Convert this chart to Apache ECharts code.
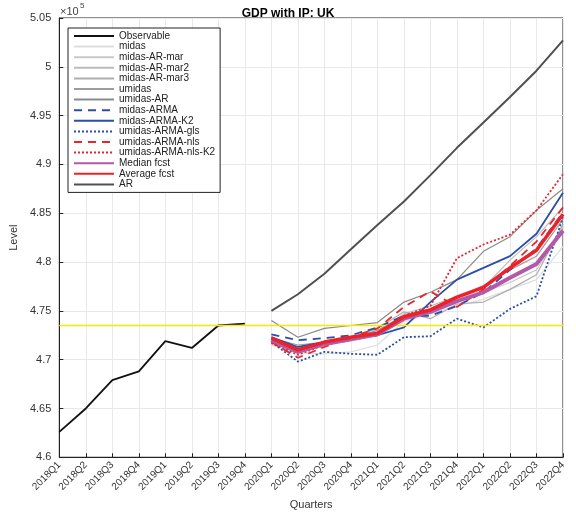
<!DOCTYPE html>
<html>
<head>
<meta charset="utf-8">
<script src="https://cdn.jsdelivr.net/npm/echarts@6/dist/echarts.min.js"></script>
<style>html,body{margin:0;width:100%;height:100%;background:#fff}#c{width:576px;height:515px}</style>
</head>
<body>
<div id="c"></div>
<script>
var quarters = ['2018Q1','2018Q2','2018Q3','2018Q4','2019Q1','2019Q2','2019Q3','2019Q4',
  '2020Q1','2020Q2','2020Q3','2020Q4','2021Q1','2021Q2','2021Q3','2021Q4','2022Q1','2022Q2','2022Q3','2022Q4'];
var pad = [null,null,null,null,null,null,null,null];
var observable = [4.626,4.650,4.679,4.688,4.719,4.712,4.735,4.737];
var midas       = [4.715,4.707,4.706,4.708,4.715,4.739,4.747,4.755,4.762,4.772,4.782,4.816];
var midasARmar  = [4.720,4.708,4.717,4.722,4.728,4.745,4.749,4.759,4.769,4.779,4.792,4.836];
var midasARmar2 = [4.720,4.712,4.717,4.720,4.728,4.747,4.755,4.765,4.774,4.802,4.826,4.856];
var midasARmar3 = [4.718,4.707,4.717,4.722,4.732,4.749,4.742,4.757,4.759,4.772,4.787,4.839];
var umidas      = [4.722,4.715,4.718,4.722,4.730,4.745,4.752,4.764,4.776,4.792,4.806,4.844];
var umidasAR    = [4.740,4.723,4.732,4.735,4.738,4.759,4.769,4.782,4.811,4.826,4.853,4.875];
var midasARMA   = [4.726,4.720,4.722,4.725,4.733,4.745,4.745,4.755,4.769,4.792,4.814,4.851];
var midasARMAK2 = [4.723,4.713,4.718,4.722,4.725,4.733,4.759,4.782,4.794,4.806,4.829,4.871];
var umidasGls   = [4.718,4.698,4.708,4.706,4.705,4.723,4.724,4.742,4.733,4.752,4.765,4.846];
var umidasNls   = [4.718,4.702,4.713,4.723,4.732,4.754,4.770,4.754,4.772,4.796,4.821,4.856];
var umidasNlsK2 = [4.717,4.705,4.715,4.720,4.725,4.745,4.755,4.804,4.818,4.828,4.853,4.890];
var medianFcst  = [4.720,4.708,4.716,4.721,4.726,4.742,4.749,4.760,4.769,4.784,4.798,4.832];
var averageFcst = [4.722,4.710,4.718,4.723,4.727,4.744,4.751,4.764,4.774,4.794,4.812,4.849];
var arFcst      = [4.750,4.767,4.788,4.813,4.838,4.862,4.889,4.917,4.943,4.969,4.996,5.027];
var refLevel = 4.735;

function sc(a){ return a.map(function(v){ return v == null ? null : Math.round(v * 1e5); }); }
function fc(a){ return sc(pad.concat(a)); }

var defs = [
  ['Observable', observable, '#111111', 'solid', 1.8],
  ['midas', midas, '#dedede', 'solid', 1.2],
  ['midas-AR-mar', midasARmar, '#c9c9c9', 'solid', 1.2],
  ['midas-AR-mar2', midasARmar2, '#bcbcbc', 'solid', 1.2],
  ['midas-AR-mar3', midasARmar3, '#adadad', 'solid', 1.2],
  ['umidas', umidas, '#9c9c9c', 'solid', 1.2],
  ['umidas-AR', umidasAR, '#8a8a8a', 'solid', 1.2],
  ['midas-ARMA', midasARMA, '#2b4ea6', [8, 6], 1.8],
  ['midas-ARMA-K2', midasARMAK2, '#2b4ea6', 'solid', 1.8],
  ['umidas-ARMA-gls', umidasGls, '#2b4ea6', [2, 2], 1.8],
  ['umidas-ARMA-nls', umidasNls, '#e8262a', [8, 6], 1.8],
  ['umidas-ARMA-nls-K2', umidasNlsK2, '#e8262a', [2, 2], 1.8],
  ['Median fcst', medianFcst, '#b25aa8', 'solid', 4],
  ['Average fcst', averageFcst, '#ee2028', 'solid', 3.5],
  ['AR', arFcst, '#505050', 'solid', 2]
];

var series = [];
defs.forEach(function (d, i) {
  series.push({
    name: d[0], type: 'line', data: i === 0 ? sc(d[1]) : fc(d[1]), symbol: 'none',
    lineStyle: { color: d[2], type: d[3], width: d[4] }, itemStyle: { color: d[2] }, z: i < 12 ? 2 + i : 30 + i
  });
});
series.push({
  name: 'ref', type: 'line', symbol: 'none', silent: true,
  data: quarters.map(function () { return Math.round(refLevel * 1e5); }),
  lineStyle: { color: '#ffe600', width: 1.6 }, itemStyle: { color: '#ffe600' }, z: 25
});

var chart = echarts.init(document.getElementById('c'));
chart.setOption({
  animation: false,
  title: { text: 'GDP with IP: UK', left: 'center', top: 3,
    textStyle: { fontSize: 12, fontWeight: 'bold', color: '#000', fontFamily: 'Liberation Sans' } },
  graphic: [{ type: 'text', left: 60, top: 6,
    style: { text: '×10', font: '11px Liberation Sans', fill: '#444' } },
    { type: 'text', left: 80, top: 2, style: { text: '5', font: '8px Liberation Sans', fill: '#444' } }],
  legend: {
    orient: 'vertical', left: 68, top: 28, itemGap: 0.6, itemWidth: 40, itemHeight: 10,
    backgroundColor: '#fff', borderColor: '#222', borderWidth: 1, padding: [3, 5],
    itemStyle: { opacity: 0 },
    textStyle: { fontSize: 10, color: '#222', fontFamily: 'Liberation Sans' },
    data: defs.map(function (d) { return d[0]; })
  },
  grid: { left: 58, right: 13, top: 18, bottom: 51, show: true, borderColor: '#222', borderWidth: 1 },
  xAxis: {
    type: 'category', data: quarters, boundaryGap: false,
    name: 'Quarters', nameLocation: 'middle', nameGap: 40,
    nameTextStyle: { fontSize: 11, color: '#333' },
    axisLine: { lineStyle: { color: '#222' } },
    axisTick: { inside: true, alignWithLabel: true, length: 4, lineStyle: { color: '#222' } },
    axisLabel: { rotate: 45, fontSize: 10, color: '#333', margin: 6, interval: 0 },
    splitLine: { show: true, lineStyle: { color: '#e8e8e8' } }
  },
  yAxis: {
    type: 'value', min: 460000, max: 505000, interval: 5000,
    name: 'Level', nameLocation: 'middle', nameGap: 38,
    nameTextStyle: { fontSize: 11, color: '#333' },
    axisLine: { show: true, lineStyle: { color: '#222' } },
    axisTick: { show: true, inside: true, length: 4, lineStyle: { color: '#222' } },
    axisLabel: { fontSize: 11, color: '#333', formatter: function (v) { return String(+(v / 1e5).toFixed(2)); } },
    splitLine: { show: true, lineStyle: { color: '#e8e8e8' } }
  },
  series: series
});
</script>
</body>
</html>
